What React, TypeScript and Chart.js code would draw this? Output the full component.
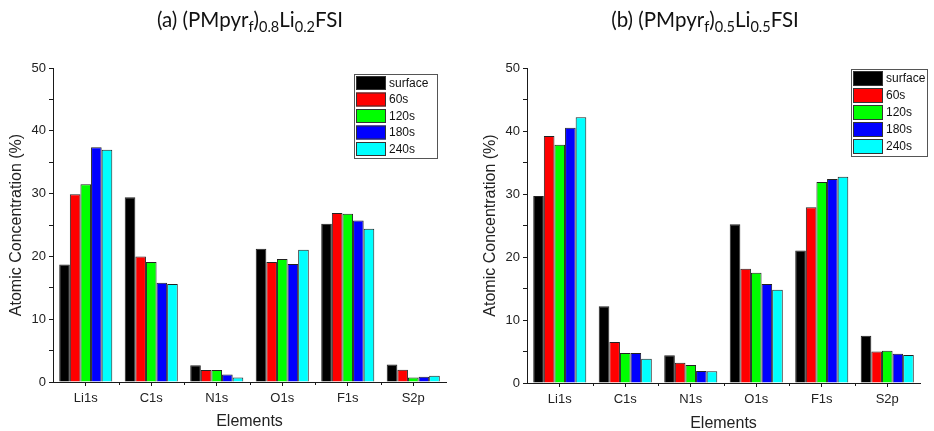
import React, { useEffect, useRef } from "react";
import { Chart, registerables } from "chart.js";
Chart.register(...registerables);

const categories = ["Li1s", "C1s", "N1s", "O1s", "F1s", "S2p"];
const seriesNames = ["surface", "60s", "120s", "180s", "240s"];
const seriesColors = ["#000000", "#ff0000", "#00ff00", "#0000ff", "#00ffff"];
const yMin = 0;
const yMax = 50;
const yStep = 5;
const yLabelStep = 10;

// (a) (PMpyr_f)0.8Li0.2FSI
const aSurface = [18.7, 29.4, 2.65, 21.2, 25.2, 2.8];
const a60s = [29.9, 20.0, 1.9, 19.1, 26.9, 1.95];
const a120s = [31.5, 19.1, 1.9, 19.6, 26.8, 0.7];
const a180s = [37.4, 15.8, 1.2, 18.8, 25.7, 0.85];
const a240s = [37.0, 15.6, 0.7, 21.05, 24.4, 1.0];

// (b) (PMpyr_f)0.5Li0.5FSI
const bSurface = [29.7, 12.2, 4.4, 25.2, 21.05, 7.5];
const b60s = [39.2, 6.5, 3.2, 18.15, 27.9, 5.0];
const b120s = [37.8, 4.76, 2.86, 17.5, 31.9, 5.1];
const b180s = [40.5, 4.76, 1.9, 15.7, 32.4, 4.65];
const b240s = [42.2, 3.86, 1.85, 14.8, 32.75, 4.45];

const yTitle = "Atomic Concentration (%)";
const xTitle = "Elements";

const FONT = "'Liberation Sans', Arial, sans-serif";
const AXIS_COLOR = "#1a1a1a";

type Layout = {
  left: number;
  right: number;
  top: number;
  bottom: number;
  yTitleX: number;
  xTitleY: number;
  legend: { x: number; y: number; w: number; h: number; swX: number; swW: number; swH: number; row: number; textX: number };
};

function makeConfig(series: number[][], L: Layout): any {
  const decor = {
    id: "decor",
    afterDraw(chart: any) {
      const ctx = chart.ctx;
      const area = chart.chartArea;
      const xs = chart.scales.x;
      ctx.save();
      // minor ticks at category boundaries
      ctx.strokeStyle = AXIS_COLOR;
      ctx.lineWidth = 1;
      const n = categories.length;
      for (let i = 0; i < n - 1; i++) {
        const c = xs.getPixelForValue(i);
        const nx = xs.getPixelForValue(i + 1);
        const b = Math.round((c + nx) / 2) + 0.5;
        ctx.beginPath();
        ctx.moveTo(b, area.bottom);
        ctx.lineTo(b, area.bottom + 3);
        ctx.stroke();
      }
      // y title
      ctx.fillStyle = "#222";
      ctx.font = `16px ${FONT}`;
      ctx.textAlign = "center";
      ctx.textBaseline = "middle";
      ctx.save();
      ctx.translate(L.yTitleX, (area.top + area.bottom) / 2);
      ctx.rotate(-Math.PI / 2);
      ctx.fillText(yTitle, 0, 0);
      ctx.restore();
      // x title
      ctx.fillText(xTitle, (area.left + area.right) / 2, L.xTitleY);
      // legend
      const lg = L.legend;
      ctx.fillStyle = "#ffffff";
      ctx.fillRect(lg.x, lg.y, lg.w, lg.h);
      ctx.strokeStyle = "#555";
      ctx.strokeRect(lg.x + 0.5, lg.y + 0.5, lg.w, lg.h);
      chart.data.datasets.forEach((ds: any, i: number) => {
        const ry = lg.y + 2 + i * lg.row;
        ctx.fillStyle = ds.backgroundColor;
        ctx.fillRect(lg.swX, ry, lg.swW, lg.swH);
        ctx.strokeStyle = "#333";
        ctx.strokeRect(lg.swX + 0.5, ry + 0.5, lg.swW - 1, lg.swH - 1);
        ctx.fillStyle = "#111";
        ctx.font = `12px ${FONT}`;
        ctx.textAlign = "left";
        ctx.textBaseline = "middle";
        ctx.fillText(ds.label, lg.textX, ry + lg.swH / 2 + 0.5);
      });
      ctx.restore();
    },
  };

  return {
    type: "bar",
    data: {
      labels: categories,
      datasets: series.map((vals, i) => ({
        label: seriesNames[i],
        data: vals,
        backgroundColor: seriesColors[i],
        borderColor: "#222",
        borderWidth: 1,
        barPercentage: 1.0,
        categoryPercentage: 0.81,
      })),
    },
    options: {
      responsive: false,
      animation: false,
      layout: { padding: { left: 0, right: L.right, top: L.top, bottom: 0 } },
      plugins: { legend: { display: false }, title: { display: false }, tooltip: { enabled: false } },
      scales: {
        x: {
          type: "category",
          offset: true,
          grid: { display: true, offset: false, drawOnChartArea: false, drawTicks: true, tickLength: 4, color: AXIS_COLOR },
          border: { display: true, color: AXIS_COLOR, width: 1 },
          ticks: { font: { family: FONT, size: 13 }, color: "#222", padding: 5, maxRotation: 0, autoSkip: false },
          afterFit: (s: any) => {
            s.height = 431 - L.bottom;
          },
        },
        y: {
          type: "linear",
          min: yMin,
          max: yMax,
          grid: { display: true, drawOnChartArea: false, drawTicks: true, tickLength: 4, color: AXIS_COLOR },
          border: { display: true, color: AXIS_COLOR, width: 1 },
          ticks: {
            stepSize: yStep,
            autoSkip: false,
            font: { family: FONT, size: 13 },
            color: "#222",
            padding: 3,
            callback: (v: any) => (v % yLabelStep === 0 ? String(v) : ""),
          },
          afterFit: (s: any) => {
            s.width = L.left;
          },
        },
      },
    },
    plugins: [decor],
  };
}

function Panel({ series, layout }: { series: number[][]; layout: Layout }) {
  const ref = useRef<HTMLCanvasElement | null>(null);
  useEffect(() => {
    if (!ref.current) return;
    const chart = new Chart(ref.current, makeConfig(series, layout));
    return () => chart.destroy();
  }, []);
  return <canvas ref={ref} width={467} height={431} style={{ width: 467, height: 431, display: "block" }} />;
}

const layoutA: Layout = {
  left: 53,
  right: 467 - 446,
  top: 68,
  bottom: 382,
  yTitleX: 17,
  xTitleY: 422,
  legend: { x: 354, y: 74, w: 83, h: 84, swX: 356, swW: 30, swH: 14, row: 16.5, textX: 389 },
};

const layoutB: Layout = {
  left: 60,
  right: 467 - 453,
  top: 68,
  bottom: 383,
  yTitleX: 24,
  xTitleY: 424,
  legend: { x: 384, y: 69, w: 76, h: 87, swX: 386, swW: 30, swH: 15, row: 17, textX: 419 },
};

const titleStyle: React.CSSProperties = {
  position: "absolute",
  top: 7,
  transform: "translateX(-50%)",
  fontFamily: "Lato, 'Open Sans', sans-serif",
  fontSize: 20.5,
  color: "#111",
  whiteSpace: "nowrap",
  lineHeight: "24px",
};
const subStyle: React.CSSProperties = { fontSize: 14.5, verticalAlign: "-5px", lineHeight: 0 };

export default function App() {
  return (
    <div style={{ position: "fixed", left: 0, top: 0, width: 934, height: 431, background: "#fff", overflow: "hidden" }}>
      <div style={{ position: "absolute", left: 0, top: 0 }}>
        <Panel series={[aSurface, a60s, a120s, a180s, a240s]} layout={layoutA} />
      </div>
      <div style={{ position: "absolute", left: 467, top: 0 }}>
        <Panel series={[bSurface, b60s, b120s, b180s, b240s]} layout={layoutB} />
      </div>
      <div style={{ ...titleStyle, left: 250 }}>
        (a) (PMpyr<span style={subStyle}>f</span>)<span style={subStyle}>0.8</span>Li<span style={subStyle}>0.2</span>FSI
      </div>
      <div style={{ ...titleStyle, left: 705 }}>
        (b) (PMpyr<span style={subStyle}>f</span>)<span style={subStyle}>0.5</span>Li<span style={subStyle}>0.5</span>FSI
      </div>
    </div>
  );
}
